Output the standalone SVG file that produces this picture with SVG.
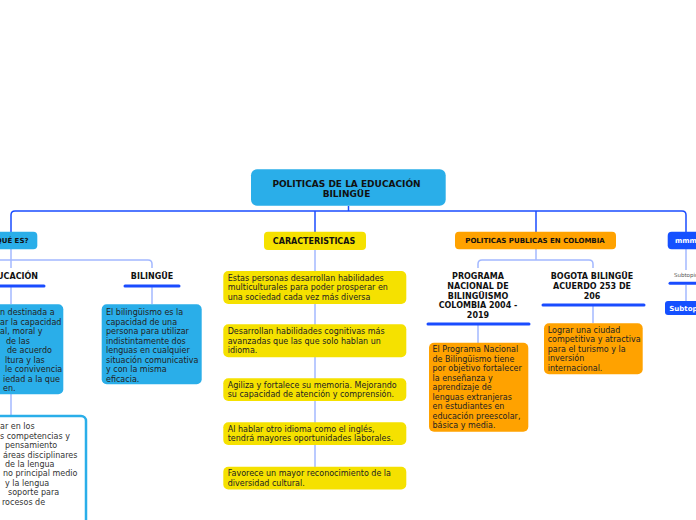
<svg xmlns="http://www.w3.org/2000/svg" width="696" height="520" viewBox="0 0 696 520">
<style>
text{font-family:"DejaVu Sans","Liberation Sans",sans-serif;}
.b{font-size:8px;fill:#222;}
.w{font-size:8px;fill:#333;}
.t{font-size:8px;font-weight:bold;fill:#111;}
.h{font-weight:bold;fill:#111;}
.c1{fill:none;stroke:#1a4cff;stroke-width:1.5;}
.c2{fill:none;stroke:#a3b8ff;stroke-width:1.5;}
.ul{stroke:#1a4cff;stroke-width:3;stroke-linecap:round;}
.lb{fill:#2aaee9;}
.yl{fill:#f5e100;}
.or{fill:#ffa200;}
.db{fill:#1550ff;}
</style>
<g id="connectors">
<path class="c1" d="M348.5,206 V211"/>
<path class="c1" d="M11,232 V215 Q11,211 15,211 H682 Q686,211 686,215 V232"/>
<path class="c1" d="M315,211 V232"/>
<path class="c1" d="M536,211 V232"/>
<path class="c2" d="M11,249 V268"/>
<path class="c2" d="M0,260 H148 Q152,260 152,264 V268"/>
<path class="c2" d="M11,287 V304"/>
<path class="c2" d="M152,287 V304"/>
<path class="c2" d="M11,394 V416"/>
<path class="c2" d="M315,250 V467"/>
<path class="c2" d="M536,249 V260"/>
<path class="c2" d="M478,268 V264 Q478,260 482,260 H589 Q593,260 593,264 V268"/>
<path class="c2" d="M478,325 V343"/>
<path class="c2" d="M593,306 V323"/>
<path class="c2" d="M686,249 V270"/>
<path class="c2" d="M686,285 V301"/>
</g>
<g id="root">
<rect class="lb" x="251" y="169.3" width="194.7" height="36.4" rx="6"/>
<text class="h" font-size="9" x="346.5" y="186.7" text-anchor="middle">POLITICAS DE LA EDUCACIÓN</text>
<text class="h" font-size="9" x="346.5" y="196.7" text-anchor="middle">BILINGÜE</text>
</g>
<g id="que-es">
<rect class="lb" x="-20" y="231.7" width="57.3" height="17.6" rx="4"/>
<text class="h" font-size="7" x="28.5" y="242.5" text-anchor="end">¿QUÉ ES?</text>
</g>
<g id="educacion">
<text class="t" x="38" y="279.3" text-anchor="end">EDUCACIÓN</text>
<line class="ul" x1="-5" y1="286" x2="44" y2="286"/>
</g>
<g id="educacion-text">
<rect class="lb" x="-10" y="304.3" width="73.3" height="90" rx="5"/>
<text class="b" x="0" y="315">n destinada a</text>
<text class="b" x="0" y="324.5">ar la capacidad</text>
<text class="b" x="0" y="334">al, moral y</text>
<text class="b" x="6" y="343.5">de las</text>
<text class="b" x="7" y="353">de acuerdo</text>
<text class="b" x="5" y="362.5">ltura y las</text>
<text class="b" x="5" y="372">le convivencia</text>
<text class="b" x="3" y="381.5">iedad a la que</text>
<text class="b" x="3" y="391">en.</text>
</g>
<g id="educacion-text2">
<rect x="-10" y="416" width="96" height="120" rx="5" fill="#fff" stroke="#2aaee9" stroke-width="2.5"/>
<text class="w" x="0" y="429.3">ar en los</text>
<text class="w" x="0" y="438.7">s competencias y</text>
<text class="w" x="5" y="448.1">pensamiento</text>
<text class="w" x="3" y="457.5">áreas disciplinares</text>
<text class="w" x="5" y="466.9">de la lengua</text>
<text class="w" x="3" y="476.3">no principal medio</text>
<text class="w" x="5" y="485.7">y la lengua</text>
<text class="w" x="8" y="495.1">soporte para</text>
<text class="w" x="2" y="504.5">rocesos de</text>
</g>
<g id="bilingue">
<text class="t" x="152" y="279.3" text-anchor="middle">BILINGÜE</text>
<line class="ul" x1="125" y1="286" x2="179" y2="286"/>
</g>
<g id="bilingue-text">
<rect class="lb" x="101.7" y="304.3" width="100" height="80" rx="5"/>
<text class="b" x="106" y="315">El bilingüismo es la</text>
<text class="b" x="106" y="324.5">capacidad de una</text>
<text class="b" x="106" y="334">persona para utilizar</text>
<text class="b" x="106" y="343.5">indistintamente dos</text>
<text class="b" x="106" y="353">lenguas en cualquier</text>
<text class="b" x="106" y="362.5">situación comunicativa</text>
<text class="b" x="106" y="372">y con la misma</text>
<text class="b" x="106" y="381.5">eficacia.</text>
</g>
<g id="caracteristicas">
<rect class="yl" x="264" y="231.7" width="102" height="18.3" rx="4"/>
<text class="h" font-size="8" x="314" y="243.5" text-anchor="middle">CARACTERISTICAS</text>
</g>
<g id="car1">
<rect class="yl" x="223.3" y="271" width="183" height="33" rx="5"/>
<text class="b" x="227.7" y="280.7">Estas personas desarrollan habilidades</text>
<text class="b" x="227.7" y="290.2">multiculturales para poder prosperar en</text>
<text class="b" x="227.7" y="299.7">una sociedad cada vez más diversa</text>
</g>
<g id="car2">
<rect class="yl" x="223.3" y="324.3" width="183" height="33" rx="5"/>
<text class="b" x="227.7" y="334">Desarrollan habilidades cognitivas más</text>
<text class="b" x="227.7" y="343.5">avanzadas que las que solo hablan un</text>
<text class="b" x="227.7" y="353">idioma.</text>
</g>
<g id="car3">
<rect class="yl" x="223.3" y="378.3" width="183" height="22.7" rx="5"/>
<text class="b" x="227.7" y="387.5">Agiliza y fortalece su memoria. Mejorando</text>
<text class="b" x="227.7" y="397">su capacidad de atención y comprensión.</text>
</g>
<g id="car4">
<rect class="yl" x="223.3" y="422.3" width="183" height="22.7" rx="5"/>
<text class="b" x="227.7" y="431.5">Al hablar otro idioma como el inglés,</text>
<text class="b" x="227.7" y="441">tendrá mayores oportunidades laborales.</text>
</g>
<g id="car5">
<rect class="yl" x="223.3" y="466.7" width="183" height="22.7" rx="5"/>
<text class="b" x="227.7" y="476">Favorece un mayor reconocimiento de la</text>
<text class="b" x="227.7" y="485.5">diversidad cultural.</text>
</g>
<g id="politicas">
<rect class="or" x="455" y="231.7" width="161" height="17.6" rx="4"/>
<text class="h" font-size="7" x="535" y="242.5" text-anchor="middle">POLITICAS PUBLICAS EN COLOMBIA</text>
</g>
<g id="programa">
<text class="t" x="478" y="279.3" text-anchor="middle">PROGRAMA</text>
<text class="t" x="478" y="289" text-anchor="middle">NACIONAL DE</text>
<text class="t" x="478" y="298.7" text-anchor="middle">BILINGÜISMO</text>
<text class="t" x="478" y="308.3" text-anchor="middle">COLOMBIA 2004 -</text>
<text class="t" x="478" y="318" text-anchor="middle">2019</text>
<line class="ul" x1="428" y1="324" x2="529" y2="324"/>
</g>
<g id="programa-text">
<rect class="or" x="429" y="342.7" width="99.3" height="89" rx="5"/>
<text class="b" x="432.5" y="352.3">El Programa Nacional</text>
<text class="b" x="432.5" y="361.8">de Bilingüismo tiene</text>
<text class="b" x="432.5" y="371.3">por objetivo fortalecer</text>
<text class="b" x="432.5" y="380.8">la enseñanza y</text>
<text class="b" x="432.5" y="390.3">aprendizaje de</text>
<text class="b" x="432.5" y="399.8">lenguas extranjeras</text>
<text class="b" x="432.5" y="409.3">en estudiantes en</text>
<text class="b" x="432.5" y="418.8">educación preescolar,</text>
<text class="b" x="432.5" y="428.3">básica y media.</text>
</g>
<g id="bogota">
<text class="t" x="592" y="279.3" text-anchor="middle">BOGOTA BILINGÜE</text>
<text class="t" x="592" y="289" text-anchor="middle">ACUERDO 253 DE</text>
<text class="t" x="592" y="298.7" text-anchor="middle">206</text>
<line class="ul" x1="543" y1="305" x2="644" y2="305"/>
</g>
<g id="bogota-text">
<rect class="or" x="544" y="323.3" width="98.7" height="51" rx="5"/>
<text class="b" x="547.7" y="332.7">Lograr una ciudad</text>
<text class="b" x="547.7" y="342.2">competitiva y atractiva</text>
<text class="b" x="547.7" y="351.7">para el turismo y la</text>
<text class="b" x="547.7" y="361.2">inversión</text>
<text class="b" x="547.7" y="370.7">internacional.</text>
</g>
<g id="mmmm">
<rect class="db" x="667.7" y="231.7" width="40" height="17.6" rx="4"/>
<text font-size="7" font-weight="bold" fill="#fff" x="675" y="242.5">mmmm</text>
</g>
<g id="subtopic1">
<text font-size="5.5" fill="#555" x="674" y="277">Subtopic</text>
<line class="ul" x1="670" y1="283.3" x2="700" y2="283.3"/>
</g>
<g id="subtopic2">
<rect class="db" x="665" y="301" width="40" height="14" rx="3"/>
<text font-size="7" font-weight="bold" fill="#fff" x="669.3" y="310.5">Subtopic</text>
</g>
</svg>
